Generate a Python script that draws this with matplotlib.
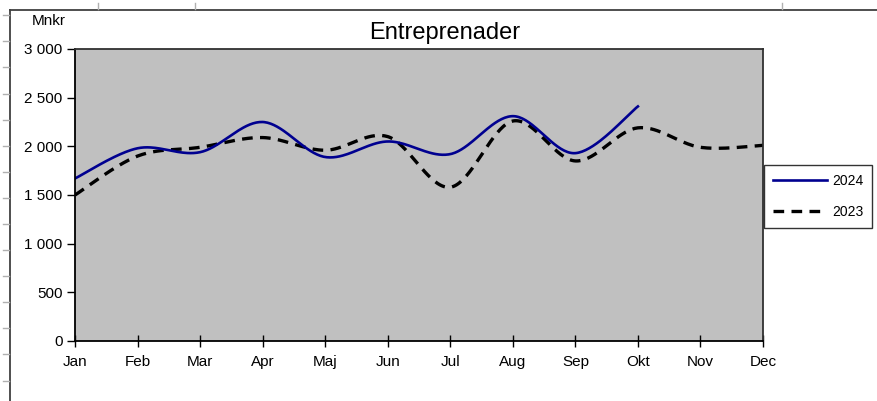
import matplotlib
matplotlib.use('Agg')
import matplotlib.pyplot as plt
import numpy as np
from matplotlib.lines import Line2D

months = ["Jan", "Feb", "Mar", "Apr", "Maj", "Jun", "Jul", "Aug", "Sep", "Okt", "Nov", "Dec"]
v2024 = [1670, 1980, 1940, 2250, 1890, 2050, 1920, 2310, 1930, 2410]
v2023 = [1500, 1900, 1990, 2090, 1960, 2100, 1580, 2260, 1850, 2190, 1990, 2010]


def smooth(y, n=40):
    # Excel-liknande utjämnad linje (Catmull-Rom via Bezier)
    y = np.asarray(y, dtype=float)
    x = np.arange(len(y), dtype=float)
    p = np.column_stack([x, y])
    p = np.vstack([p[0], p, p[-1]])
    out = []
    t = np.linspace(0, 1, n)[:, None]
    for i in range(1, len(p) - 2):
        p0, p1, p2, p3 = p[i - 1], p[i], p[i + 1], p[i + 2]
        c1 = p1 + (p2 - p0) / 6
        c2 = p2 - (p3 - p1) / 6
        seg = ((1 - t) ** 3) * p1 + 3 * ((1 - t) ** 2) * t * c1 + 3 * (1 - t) * t ** 2 * c2 + t ** 3 * p2
        out.append(seg if i == 1 else seg[1:])
    out = np.vstack(out)
    return out[:, 0], out[:, 1]


fig = plt.figure(figsize=(8.77, 4.01), dpi=100)
plt.rcParams['font.family'] = ['Liberation Sans', 'DejaVu Sans']

W, H = 877, 401
ax = fig.add_axes([75 / W, 1 - 341 / H, (763 - 75) / W, (341 - 49) / H])
ax.set_facecolor('#c0c0c0')

x1, y1 = smooth(v2024)
x2, y2 = smooth(v2023)
ax.plot(x2, y2, color='black', lw=2.4, dashes=(3.2, 2.2), label='2023', solid_capstyle='butt')
ax.plot(x1, y1, color='#000090', lw=1.9, label='2024')

ax.set_xlim(0, len(months) - 1)
ax.set_ylim(0, 3000)
ax.set_xticks(range(len(months)))
ax.set_xticklabels(months)
yt = np.arange(0, 3001, 500)
ax.set_yticks(yt)
ax.set_yticklabels([f"{v:,}".replace(",", " ") for v in yt])
ax.tick_params(axis='both', labelsize=11, color='black', width=1)
ax.tick_params(axis='x', direction='inout', length=8, pad=6)
ax.tick_params(axis='y', direction='out', length=6, pad=3)
for s in ['left', 'bottom']:
    ax.spines[s].set_color('black')
    ax.spines[s].set_linewidth(1.3)
for s in ['top', 'right']:
    ax.spines[s].set_color('#303030')
    ax.spines[s].set_linewidth(1.3)

fig.text(445 / W, 1 - 33 / H, "Entreprenader", ha='center', va='center', fontsize=17)
fig.text(32 / W, 1 - 21 / H, "Mnkr", ha='left', va='center', fontsize=11)

# legend
handles = [Line2D([], [], color='#000090', lw=1.9),
           Line2D([], [], color='black', lw=2.4, dashes=(3.2, 2.2))]
leg = fig.legend(handles, ['2024', '2023'], loc='upper left',
                 bbox_to_anchor=(764 / W, 1 - 165 / H), frameon=True, fancybox=False,
                 fontsize=10, handlelength=3.9, handletextpad=0.35, labelspacing=1.2,
                 borderpad=0.65, borderaxespad=0)
leg.get_frame().set_edgecolor('black')
leg.get_frame().set_linewidth(1)

# Excel-ramar och cellkanter
fig.add_artist(Line2D([10 / W, 1], [1 - 10 / H, 1 - 10 / H], color='#404040', lw=1.3))
fig.add_artist(Line2D([10 / W, 10 / W], [0, 1 - 10 / H], color='#404040', lw=1.3))
for yy in [15, 41, 67, 94, 120, 146, 172, 198, 224, 250, 276, 302, 328, 354, 381]:
    fig.add_artist(Line2D([3 / W, 9 / W], [1 - yy / H, 1 - yy / H], color='#b0b0b0', lw=1))
for xx in [98, 195, 782]:
    fig.add_artist(Line2D([xx / W, xx / W], [1 - 3 / H, 1 - 9 / H], color='#b0b0b0', lw=1))

fig.savefig('out.png', dpi=100)
